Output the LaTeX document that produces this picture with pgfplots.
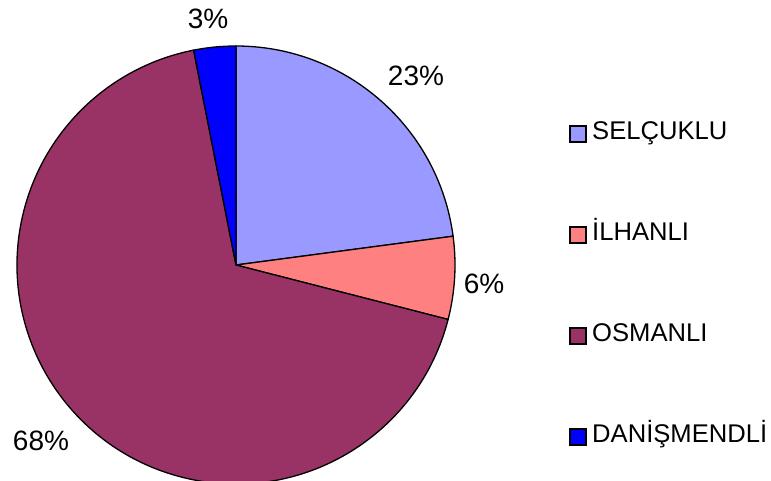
\documentclass[border=0pt]{standalone}
\usepackage{fontspec}
\setmainfont{Liberation Sans}
\usepackage{pgfplots}
\usepackage{pgfplotstable}
\pgfplotsset{compat=1.18}
\definecolor{selc}{HTML}{9999FF}
\definecolor{ilh}{HTML}{FF8080}
\definecolor{osm}{HTML}{993366}
\definecolor{dan}{HTML}{0000FF}
\pgfplotstableread{
label value
SELCUKLU 22.9
ILHANLI 6.1
OSMANLI 67.9
DANISMENDLI 3.1
}\piedata
\begin{document}
\begin{tikzpicture}
\pgfplotstablegetelem{0}{value}\of\piedata \pgfmathsetmacro\va{\pgfplotsretval}
\pgfplotstablegetelem{1}{value}\of\piedata \pgfmathsetmacro\vb{\pgfplotsretval}
\pgfplotstablegetelem{2}{value}\of\piedata \pgfmathsetmacro\vc{\pgfplotsretval}
\pgfplotstablegetelem{3}{value}\of\piedata \pgfmathsetmacro\vd{\pgfplotsretval}
\pgfmathsetmacro\aA{90}
\pgfmathsetmacro\aB{\aA-3.6*\va}
\pgfmathsetmacro\aC{\aB-3.6*\vb}
\pgfmathsetmacro\aD{\aC-3.6*\vc}
\pgfmathsetmacro\aE{\aD-3.6*\vd}
\begin{axis}[
  width=771bp, height=481bp, scale only axis,
  xmin=0, xmax=771, ymin=0, ymax=481,
  hide axis, clip=true,
]
\filldraw[fill=selc, draw=black, line width=1.3bp] (axis cs:236,216) -- ([shift={(\aA:219bp)}]axis cs:236,216) arc[start angle=\aA, end angle=\aB, radius=219bp] -- cycle;
\filldraw[fill=ilh, draw=black, line width=1.3bp] (axis cs:236,216) -- ([shift={(\aB:219bp)}]axis cs:236,216) arc[start angle=\aB, end angle=\aC, radius=219bp] -- cycle;
\filldraw[fill=osm, draw=black, line width=1.3bp] (axis cs:236,216) -- ([shift={(\aC:219bp)}]axis cs:236,216) arc[start angle=\aC, end angle=\aD, radius=219bp] -- cycle;
\filldraw[fill=dan, draw=black, line width=1.3bp] (axis cs:236,216) -- ([shift={(\aD:219bp)}]axis cs:236,216) arc[start angle=\aD, end angle=\aE, radius=219bp] -- cycle;
\node[font=\fontsize{28bp}{32bp}\selectfont] at (axis cs:416,405) {23\%};
\node[font=\fontsize{28bp}{32bp}\selectfont] at (axis cs:484,197) {6\%};
\node[font=\fontsize{28bp}{32bp}\selectfont] at (axis cs:41,40) {68\%};
\node[font=\fontsize{28bp}{32bp}\selectfont] at (axis cs:208,462) {3\%};
% legend
\filldraw[fill=selc, draw=black, line width=1.2bp] (axis cs:570,339) rectangle (axis cs:586,355);
\filldraw[fill=ilh, draw=black, line width=1.2bp] (axis cs:570,238) rectangle (axis cs:586,254);
\filldraw[fill=osm, draw=black, line width=1.2bp] (axis cs:570,137) rectangle (axis cs:586,153);
\filldraw[fill=dan, draw=black, line width=1.2bp] (axis cs:570,36) rectangle (axis cs:586,52);
\node[anchor=base west, inner sep=0pt, font=\fontsize{25.6bp}{30bp}\selectfont] at (axis cs:592,341) {SELÇUKLU};
\node[anchor=base west, inner sep=0pt, font=\fontsize{25.6bp}{30bp}\selectfont] at (axis cs:592,240) {İLHANLI};
\node[anchor=base west, inner sep=0pt, font=\fontsize{25.6bp}{30bp}\selectfont] at (axis cs:592,139) {OSMANLI};
\node[anchor=base west, inner sep=0pt, font=\fontsize{25.6bp}{30bp}\selectfont] at (axis cs:592,38) {DANİŞMENDLİ};
\end{axis}
\pgfresetboundingbox
\path[use as bounding box] (current axis.south west) rectangle (current axis.north east);
\end{tikzpicture}
\end{document}
